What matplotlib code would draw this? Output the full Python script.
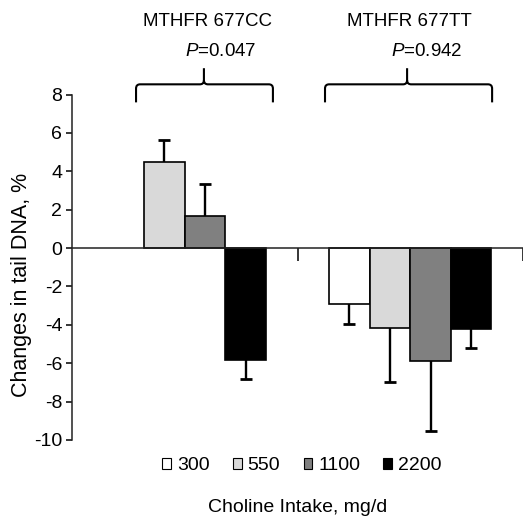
import numpy as np
import matplotlib
matplotlib.use("Agg")
import matplotlib.pyplot as plt
from matplotlib.patches import Patch, PathPatch
from matplotlib.path import Path

plt.rcParams['font.family'] = ['Liberation Sans', 'DejaVu Sans']
plt.rcParams['mathtext.fontset'] = 'custom'
plt.rcParams['mathtext.rm'] = 'Liberation Sans'
plt.rcParams['mathtext.it'] = 'Liberation Sans:italic'
plt.rcParams['axes.unicode_minus'] = False

# data
genotypes = ['MTHFR 677CC', 'MTHFR 677TT']
p_values = ['0.047', '0.942']
doses = ['300', '550', '1100', '2200']
colors = ['white', '#d9d9d9', '#808080', 'black']

# change in tail DNA (%) by choline dose; CC group has no 300 bar
cc_mean = [np.nan, 4.50, 1.66, -5.81]
cc_err = [np.nan, 1.14, 1.68, 1.03]
tt_mean = [-2.92, -4.19, -5.86, -4.23]
tt_err = [1.02, 2.77, 3.68, 0.97]


def brace(ax, x0, x1, xm, y_end, y_bar, y_top, rx=0.018, ry=0.22):
    """Curly bracket opening downwards, spike at xm."""
    verts = [(x0, y_end), (x0, y_bar - ry), (x0, y_bar), (x0 + rx, y_bar),
             (xm - rx, y_bar), (xm, y_bar), (xm, y_bar + ry), (xm, y_top),
             (xm, y_bar + ry), (xm, y_bar), (xm + rx, y_bar),
             (x1 - rx, y_bar), (x1, y_bar), (x1, y_bar - ry), (x1, y_end)]
    codes = [Path.MOVETO, Path.LINETO, Path.CURVE3, Path.CURVE3,
             Path.LINETO, Path.CURVE3, Path.CURVE3, Path.LINETO,
             Path.MOVETO, Path.CURVE3, Path.CURVE3,
             Path.LINETO, Path.CURVE3, Path.CURVE3, Path.LINETO]
    ax.add_patch(PathPatch(Path(verts, codes), fill=False, lw=1.5,
                           edgecolor='black', clip_on=False))


fig = plt.figure(figsize=(5.23, 5.17), dpi=100)
ax = fig.add_axes([72 / 523, 1 - 440 / 517, 451 / 523, 345.5 / 517])

means = np.array([cc_mean, tt_mean])
errs = np.array([cc_err, tt_err])
x = np.arange(len(genotypes))
width = 0.18

for i, dose in enumerate(doses):
    xi = x + (i - 1.5) * width
    m = means[:, i]
    e = errs[:, i]
    ax.bar(xi, m, width, color=colors[i], edgecolor='black', linewidth=1.2,
           label=dose, zorder=2)
    tip = m + np.sign(m) * e
    ax.vlines(xi, m, tip, color='black', lw=1.7, zorder=3)
    ax.plot(xi, tip, ls='none', marker='_', ms=8, mew=2, color='black', zorder=3)

ax.set_xlim(-0.5, 1.5)
ax.set_ylim(-10, 8)
ax.set_yticks(np.arange(-10, 9, 2))
ax.set_xticks([0.5, 1.5])
ax.set_xticklabels([])
for s in ['top', 'right']:
    ax.spines[s].set_visible(False)
ax.spines['bottom'].set_position(('data', 0))
ax.spines['bottom'].set_zorder(4)
for s in ['left', 'bottom']:
    ax.spines[s].set_linewidth(1.1)
    ax.spines[s].set_color('#222222')
ax.tick_params(axis='y', direction='out', length=4, width=1.1, labelsize=14, pad=3)
ax.tick_params(axis='x', direction='out', length=9, width=1.1)

ax.set_ylabel('Changes in tail DNA, %', fontsize=15.5)
ax.yaxis.set_label_coords(-0.089, 0.45)

# group brackets and labels
brace(ax, -0.216, 0.391, 0.085, 7.59, 8.53, 9.37)
brace(ax, 0.622, 1.363, 0.986, 7.59, 8.53, 9.37)
ax.text(0.103, 11.78, genotypes[0], ha='center', va='center', fontsize=13.5)
ax.text(0.994, 11.78, genotypes[1], ha='center', va='center', fontsize=13.5)
ax.text(0.161, 10.26, r'$P$=' + p_values[0], ha='center', va='center', fontsize=13.5)
ax.text(1.074, 10.26, r'$P$=' + p_values[1], ha='center', va='center', fontsize=13.5)

handles = [Patch(facecolor=c, edgecolor='black', lw=0.8) for c in colors]
fig.legend(handles, doses, loc='center', bbox_to_anchor=(302 / 523, 1 - 466 / 517),
           ncol=4, frameon=False, fontsize=14, handlelength=0.45, handleheight=0.45,
           handletextpad=0.3, columnspacing=1.2, borderaxespad=0)

fig.text(298 / 523, 1 - 508 / 517, 'Choline Intake, mg/d', ha='center', va='center',
         fontsize=14)

fig.savefig('out.png', dpi=100)
